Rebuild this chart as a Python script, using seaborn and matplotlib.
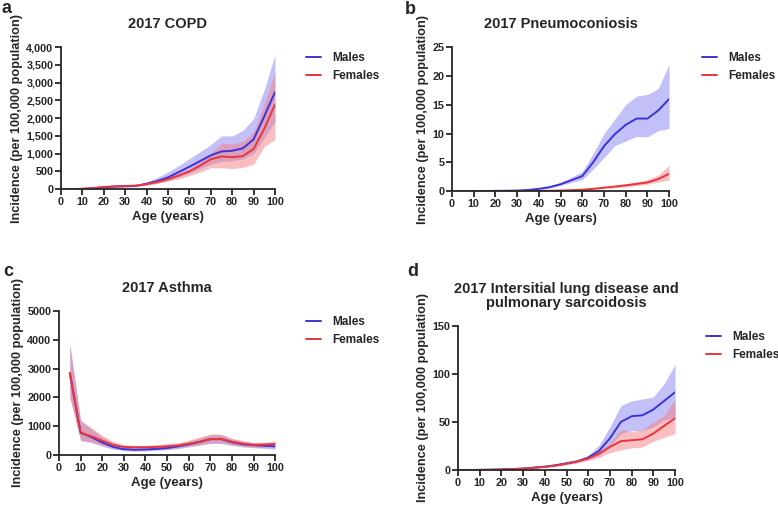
import matplotlib
matplotlib.use("Agg")
import matplotlib.pyplot as plt
import pandas as pd
import seaborn as sns

# Age groups
ages = list(range(0, 105, 5))
ages_asthma = list(range(5, 105, 5))

# COPD (per 100,000)
copd_m = [0, 0, 5, 20, 50, 70, 80, 90, 150, 230, 330, 480, 630, 790, 950, 1060, 1080, 1150, 1400, 2050, 2730]
copd_m_lo = [0, 0, 3, 15, 40, 55, 65, 75, 110, 170, 240, 340, 450, 580, 700, 780, 800, 850, 1000, 1450, 1900]
copd_m_hi = [0, 0, 7, 25, 60, 85, 95, 110, 200, 330, 480, 660, 860, 1050, 1250, 1500, 1500, 1650, 1980, 2800, 3780]
copd_f = [0, 0, 10, 30, 60, 80, 90, 100, 140, 200, 280, 380, 500, 660, 840, 920, 900, 930, 1130, 1700, 2380]
copd_f_lo = [0, 0, 7, 22, 45, 65, 75, 85, 115, 160, 220, 290, 380, 480, 600, 600, 580, 610, 700, 1200, 1400]
copd_f_hi = [0, 0, 13, 38, 75, 95, 105, 120, 170, 250, 340, 460, 570, 760, 1000, 1300, 1270, 1350, 1600, 2400, 3300]

# Pneumoconiosis
pneu_m = [0, 0, 0.02, 0.03, 0.05, 0.07, 0.1, 0.2, 0.4, 0.7, 1.2, 1.9, 2.6, 5.0, 7.8, 9.9, 11.5, 12.6, 12.6, 14.0, 16.0]
pneu_m_lo = [0, 0, 0.01, 0.02, 0.04, 0.05, 0.08, 0.15, 0.3, 0.55, 1.0, 1.5, 2.0, 3.8, 5.8, 7.9, 8.7, 9.5, 9.4, 10.5, 10.9]
pneu_m_hi = [0, 0, 0.03, 0.04, 0.07, 0.09, 0.13, 0.25, 0.5, 0.9, 1.5, 2.4, 3.4, 6.5, 10.0, 12.5, 15.0, 16.5, 16.8, 17.8, 22.0]
pneu_f = [0, 0, 0, 0, 0.01, 0.01, 0.02, 0.03, 0.05, 0.07, 0.1, 0.17, 0.25, 0.4, 0.6, 0.8, 1.0, 1.25, 1.5, 2.1, 3.0]
pneu_f_lo = [0, 0, 0, 0, 0.0, 0.0, 0.01, 0.02, 0.03, 0.05, 0.07, 0.12, 0.18, 0.3, 0.45, 0.6, 0.75, 0.95, 1.2, 1.6, 1.9]
pneu_f_hi = [0, 0, 0, 0, 0.02, 0.02, 0.03, 0.04, 0.07, 0.1, 0.14, 0.23, 0.33, 0.5, 0.75, 1.0, 1.3, 1.6, 2.0, 2.8, 4.5]

# Asthma (starts at age 5)
asth_m = [2850, 780, 620, 430, 280, 200, 180, 190, 210, 240, 300, 370, 450, 550, 550, 440, 370, 340, 320, 300]
asth_m_lo = [2000, 500, 430, 300, 200, 150, 130, 140, 160, 180, 220, 280, 340, 400, 400, 330, 280, 250, 230, 200]
asth_m_hi = [3850, 1200, 900, 620, 420, 300, 280, 290, 320, 350, 400, 480, 580, 700, 700, 560, 480, 420, 420, 420]
asth_f = [2850, 760, 650, 500, 350, 280, 270, 270, 280, 300, 330, 390, 460, 550, 560, 460, 390, 350, 360, 380]
asth_f_lo = [2000, 520, 450, 350, 250, 200, 190, 190, 200, 220, 250, 300, 350, 420, 420, 350, 300, 270, 270, 280]
asth_f_hi = [3850, 1200, 950, 680, 470, 350, 330, 330, 360, 390, 420, 520, 620, 730, 720, 580, 500, 440, 450, 480]

# Interstitial lung disease and pulmonary sarcoidosis
ild_m = [0, 0, 0.1, 0.3, 0.5, 1.0, 1.5, 2.5, 3.5, 5.0, 7.0, 9.0, 13.0, 20.0, 33.0, 50.0, 56.0, 57.0, 63.0, 72.0, 81.0]
ild_m_lo = [0, 0, 0.05, 0.2, 0.4, 0.8, 1.2, 2.0, 3.0, 4.2, 6.0, 8.0, 11.0, 15.0, 25.0, 38.0, 41.0, 41.0, 45.0, 52.0, 55.0]
ild_m_hi = [0, 0, 0.15, 0.4, 0.7, 1.2, 1.9, 3.0, 4.2, 6.0, 8.5, 10.5, 15.0, 26.0, 45.0, 67.0, 72.0, 74.0, 76.0, 90.0, 110.0]
ild_f = [0, 0, 0.1, 0.3, 0.5, 0.9, 1.4, 2.3, 3.2, 4.6, 6.5, 9.0, 12.0, 17.0, 24.0, 30.0, 31.0, 32.0, 38.0, 46.0, 54.0]
ild_f_lo = [0, 0, 0.05, 0.2, 0.4, 0.7, 1.1, 1.9, 2.7, 3.9, 5.5, 7.5, 10.0, 13.0, 18.0, 21.0, 23.0, 24.0, 30.0, 34.0, 38.0]
ild_f_hi = [0, 0, 0.15, 0.4, 0.6, 1.1, 1.7, 2.8, 3.8, 5.4, 7.7, 10.5, 14.0, 20.0, 28.0, 42.0, 40.0, 42.0, 50.0, 57.0, 74.0]

BLUE = "#3b33d6"
RED = "#e8363c"
BLUE_FILL = "#7a74f0"
RED_FILL = "#f27f84"

sns.set_theme(style="ticks")
plt.rcParams["font.family"] = ["Liberation Sans", "DejaVu Sans"]
plt.rcParams["font.weight"] = "bold"
plt.rcParams["axes.linewidth"] = 1.3

W, H = 778, 507


def long_df(x, m, f):
    return pd.DataFrame({
        "age": list(x) + list(x),
        "value": list(m) + list(f),
        "sex": ["Males"] * len(x) + ["Females"] * len(x),
    })


def draw(ax, x, m, mlo, mhi, f, flo, fhi, title, ymax, yticks, fmt, leg_xy):
    ax.fill_between(x, mlo, mhi, color=BLUE_FILL, alpha=0.45, linewidth=0)
    ax.fill_between(x, flo, fhi, color=RED_FILL, alpha=0.5, linewidth=0)
    sns.lineplot(data=long_df(x, m, f), x="age", y="value", hue="sex",
                 palette={"Males": BLUE, "Females": RED}, linewidth=1.4, ax=ax)
    ax.set_xlim(0, 100)
    ax.set_ylim(0, ymax)
    ax.set_xticks(range(0, 101, 10))
    ax.set_yticks(yticks)
    ax.set_yticklabels([fmt(v) for v in yticks])
    ax.tick_params(labelsize=7.8, width=1.3, length=4, pad=1.5)
    for lab in ax.get_xticklabels() + ax.get_yticklabels():
        lab.set_fontweight("bold")
    ax.set_xlabel("Age (years)", fontsize=9.5, fontweight="bold", labelpad=3)
    ax.set_ylabel("Incidence (per 100,000 population)", fontsize=9.2,
                  fontweight="bold", labelpad=2.5)
    ax.set_title(title, fontsize=10.5, fontweight="bold", pad=14)
    sns.despine(ax=ax)
    ax.legend(loc="upper left", bbox_to_anchor=(leg_xy[0] / W, 1 - leg_xy[1] / H),
              bbox_transform=ax.figure.transFigure, frameon=False,
              borderpad=0, borderaxespad=0, handlelength=1.3,
              handletextpad=0.9, labelspacing=0.5,
              prop={"weight": "bold", "size": 8.5})


fig = plt.figure(figsize=(7.78, 5.07), dpi=100)
ax_a = fig.add_axes([0.0784, 0.627, 0.275, 0.280])
ax_b = fig.add_axes([0.581, 0.623, 0.279, 0.284])
ax_c = fig.add_axes([0.0758, 0.1026, 0.278, 0.284])
ax_d = fig.add_axes([0.5887, 0.073, 0.279, 0.284])

comma = lambda v: f"{int(v):,}"
plain = lambda v: f"{int(v)}"

draw(ax_a, ages, copd_m, copd_m_lo, copd_m_hi, copd_f, copd_f_lo, copd_f_hi,
     "2017 COPD", 4000, list(range(0, 4001, 500)), comma, (306, 52))
draw(ax_b, ages, pneu_m, pneu_m_lo, pneu_m_hi, pneu_f, pneu_f_lo, pneu_f_hi,
     "2017 Pneumoconiosis", 25, list(range(0, 26, 5)), plain, (702, 52))
draw(ax_c, ages_asthma, asth_m, asth_m_lo, asth_m_hi, asth_f, asth_f_lo, asth_f_hi,
     "2017 Asthma", 5000, list(range(0, 5001, 1000)), plain, (306, 316))
draw(ax_d, ages, ild_m, ild_m_lo, ild_m_hi, ild_f, ild_f_lo, ild_f_hi,
     "2017 Intersitial lung disease and\npulmonary sarcoidosis", 150,
     [0, 50, 100, 150], plain, (706, 331))
ax_d.title.set_linespacing(1.0)

for lbl, x, y in [("a", 2, 0), ("b", 405, 1), ("c", 3, 263), ("d", 407, 263)]:
    fig.text(x / W, 1 - y / H, lbl, fontsize=13, fontweight="bold", va="top", ha="left")

fig.savefig("out.png", dpi=100)
